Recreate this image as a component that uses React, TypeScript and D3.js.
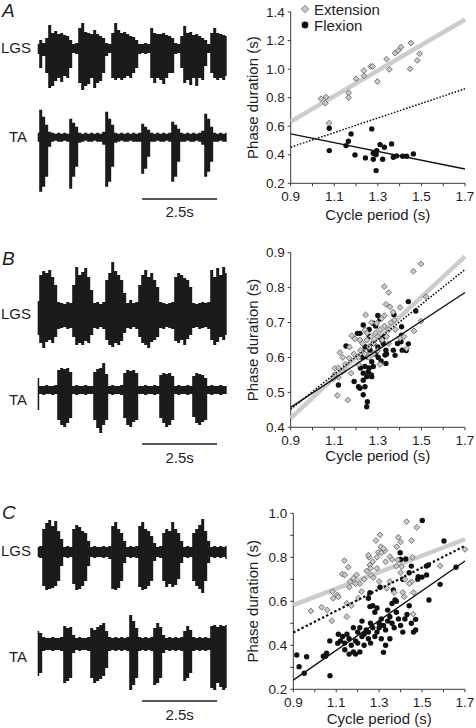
import React from "react";
import * as d3 from "d3";

const FONT = "'Liberation Sans', Arial, Helvetica, sans-serif";

// ---------- EMG envelopes (sampled every 0.1 s, amplitude units above / below baseline) ----------
const sampleDt = 0.1;
const traceDuration = 6.3;
const aLgsTop = [4,8,5,10,23,15,17,14,15,13,12,8,4,5,20,25,16,15,14,18,14,12,10,5,4,15,25,18,15,16,14,12,11,8,4,4,5,4,20,15,14,14,15,13,12,10,5,4,12,22,15,16,13,14,12,10,8,4,15,20,15,14,13,12];
const aLgsBot = [6,20,8,25,40,38,33,30,34,28,30,20,5,6,35,42,38,36,30,40,35,33,25,8,5,30,32,30,32,30,28,30,25,20,6,5,6,5,30,35,30,32,36,30,25,25,6,5,20,35,32,37,30,38,30,32,18,5,25,30,32,30,32,28];
const aTaTop = [4,27,20,12,5,4,3,4,3,4,3,18,14,10,4,3,4,3,4,3,4,3,5,25,18,12,4,3,4,3,4,3,4,3,4,13,10,7,4,3,4,3,4,3,4,15,12,8,4,3,4,3,4,3,4,6,23,18,10,4,3,4,3,4];
const aTaBot = [5,55,50,40,10,5,4,5,5,4,5,52,40,30,6,5,4,5,5,4,5,5,8,50,45,30,6,5,4,5,5,4,5,5,5,37,32,20,5,5,4,5,5,4,5,45,40,25,5,5,4,5,5,4,5,8,40,35,25,5,5,4,5,5];
const bLgsTop = [14,40,44,42,45,38,30,13,12,11,13,12,30,48,40,43,47,38,25,12,13,11,13,35,42,53,44,40,35,22,12,15,12,13,30,40,45,38,42,35,28,13,12,11,12,13,38,42,40,37,35,28,12,11,12,13,12,13,45,38,47,40,48,42];
const bLgsBot = [20,28,33,27,25,28,22,14,13,12,14,13,22,30,28,30,26,28,20,13,14,12,14,25,30,32,28,30,26,18,13,14,12,14,22,28,30,33,27,25,22,13,14,12,13,14,26,28,25,30,24,20,13,12,14,13,12,14,25,30,27,22,25,20];
const bTaTop = [12,4,4,5,4,4,5,20,22,21,22,18,4,5,4,4,5,4,4,18,21,22,27,16,4,5,4,4,5,17,20,19,20,17,4,4,5,4,4,5,4,15,17,16,17,14,4,5,4,4,5,4,14,17,16,15,12,4,5,4,4,5,4,4];
const bTaBot = [20,4,5,4,4,5,4,30,35,37,33,28,4,5,4,4,5,4,4,30,38,43,35,30,4,5,4,4,5,28,35,37,32,30,4,4,5,4,4,5,4,28,33,37,35,30,4,5,4,4,5,4,27,33,35,32,30,4,5,4,4,5,4,4];
const cLgsTop = [4,5,22,28,31,25,30,20,12,4,5,4,22,26,24,20,18,10,4,5,4,4,5,4,5,25,29,22,18,10,4,5,4,5,25,29,22,20,15,8,4,5,18,22,20,29,22,18,10,4,5,4,18,22,26,32,20,10,4,5,4,5,4,5];
const cLgsBot = [6,7,35,39,38,37,35,30,15,6,7,6,33,39,38,35,30,15,6,7,6,6,7,6,8,38,39,37,30,12,6,7,6,7,36,39,38,35,30,10,6,7,30,36,33,36,34,28,12,6,7,6,30,35,38,42,30,12,6,7,6,7,6,8];
const cTaTop = [12,10,6,5,5,6,5,5,6,17,15,16,8,5,6,5,5,6,15,13,16,18,20,12,6,5,6,5,6,5,6,28,22,15,6,5,6,5,6,15,20,16,8,5,6,5,6,5,6,12,17,13,6,5,6,5,6,5,17,18,16,18,17,18];
const cTaBot = [33,30,8,7,7,8,7,7,8,40,38,35,10,7,8,7,7,8,35,40,38,36,33,25,8,7,8,7,8,7,8,47,42,35,8,7,8,7,8,42,40,35,10,7,8,7,8,7,8,38,35,30,8,7,8,7,8,7,45,47,40,44,47,45];
const scaleBarStart = 3.48;
const scaleBarLength = 2.5;

// ---------- Scatter data: [cycle period (s), phase duration (s)] ----------
const extA: [number, number][] = [[1.039,0.792],[1.062,0.804],[1.059,0.761],[1.076,0.621],[1.166,0.834],[1.166,0.801],[1.2,0.932],[1.236,0.953],[1.236,0.99],[1.267,1.019],[1.276,1.019],[1.298,0.913],[1.34,1.07],[1.353,0.998],[1.379,1.112],[1.394,1.131],[1.406,1.154],[1.452,1.182],[1.448,1.002],[1.481,1.061],[1.492,1.108]];
const flexA: [number, number][] = [[1.077,0.586],[1.077,0.429],[1.154,0.464],[1.165,0.495],[1.177,0.546],[1.195,0.399],[1.243,0.378],[1.272,0.581],[1.279,0.411],[1.279,0.368],[1.292,0.401],[1.295,0.429],[1.292,0.289],[1.31,0.471],[1.322,0.368],[1.33,0.453],[1.363,0.476],[1.371,0.382],[1.386,0.392],[1.414,0.389],[1.432,0.389],[1.463,0.406]];
const extB: [number, number][] = [[1.498,0.868],[1.463,0.847],[1.521,0.774],[1.498,0.704],[1.466,0.676],[1.33,0.803],[1.35,0.786],[1.337,0.752],[1.356,0.745],[1.402,0.743],[1.376,0.707],[1.244,0.722],[1.241,0.679],[1.318,0.712],[1.295,0.698],[1.18,0.662],[1.195,0.653],[1.218,0.65],[1.126,0.614],[1.139,0.6],[1.168,0.598],[1.103,0.569],[1.096,0.54],[1.119,0.543],[1.114,0.491],[1.162,0.478],[1.177,0.555],[1.212,0.58],[1.252,0.607],[1.432,0.626],[1.402,0.655],[1.22,0.62],[1.23,0.64],[1.25,0.65],[1.26,0.63],[1.27,0.66],[1.28,0.64],[1.29,0.67],[1.3,0.66],[1.31,0.68],[1.32,0.65],[1.33,0.69],[1.34,0.66],[1.35,0.68],[1.3,0.62],[1.28,0.61],[1.26,0.6],[1.24,0.61],[1.21,0.6],[1.19,0.61],[1.17,0.63],[1.25,0.67],[1.27,0.7],[1.36,0.7],[1.38,0.68],[1.33,0.72],[1.15,0.58],[1.14,0.56],[1.1,0.55],[1.12,0.57],[1.31,0.58],[1.35,0.64],[1.37,0.73],[1.42,0.66]];
const flexB: [number, number][] = [[1.44,0.76],[1.474,0.733],[1.374,0.722],[1.409,0.688],[1.409,0.664],[1.406,0.645],[1.44,0.639],[1.412,0.621],[1.371,0.621],[1.333,0.607],[1.337,0.583],[1.379,0.606],[1.318,0.65],[1.279,0.698],[1.233,0.693],[1.218,0.669],[1.206,0.669],[1.261,0.66],[1.241,0.631],[1.264,0.621],[1.249,0.602],[1.272,0.588],[1.279,0.574],[1.241,0.574],[1.233,0.555],[1.256,0.559],[1.272,0.545],[1.249,0.545],[1.233,0.535],[1.241,0.516],[1.233,0.493],[1.252,0.473],[1.249,0.459],[1.191,0.531],[1.211,0.516],[1.218,0.512],[1.119,0.521],[1.154,0.633],[1.302,0.6],[1.315,0.59],[1.337,0.621],[1.325,0.64],[1.29,0.69],[1.31,0.71],[1.26,0.68],[1.3,0.63],[1.33,0.66],[1.27,0.55],[1.26,0.57],[1.29,0.61],[1.34,0.61],[1.39,0.64],[1.43,0.62],[1.22,0.57],[1.23,0.6],[1.3,0.72],[1.28,0.64]];
const extC: [number, number][] = [[1.428,0.962],[1.475,0.936],[1.304,0.902],[1.285,0.876],[1.389,0.891],[1.4,0.87],[1.451,0.876],[1.382,0.848],[1.307,0.848],[1.327,0.83],[1.296,0.823],[1.253,0.8],[1.35,0.803],[1.455,0.8],[1.138,0.785],[1.156,0.755],[1.128,0.724],[1.257,0.765],[1.242,0.738],[1.386,0.788],[1.405,0.758],[1.195,0.72],[1.18,0.705],[1.164,0.689],[1.273,0.708],[1.161,0.664],[1.218,0.644],[1.083,0.644],[1.105,0.629],[1.086,0.614],[1.149,0.591],[1.203,0.614],[1.335,0.659],[1.417,0.621],[1.451,0.689],[1.032,0.573],[1.058,0.561],[0.982,0.556],[1.079,0.511],[1.149,0.53],[1.459,0.542],[1.584,0.761],[1.7,0.836],[1.27,0.78],[1.29,0.8],[1.31,0.82],[1.32,0.84],[1.26,0.72],[1.29,0.75],[1.33,0.78],[1.36,0.79],[1.38,0.76],[1.4,0.73],[1.42,0.7],[1.44,0.68],[1.35,0.69],[1.37,0.64],[1.3,0.69],[1.23,0.7],[1.21,0.68],[1.19,0.68],[1.26,0.75],[1.41,0.64],[1.46,0.64],[1.14,0.72],[1.17,0.58],[1.11,0.62],[1.25,0.81]];
const flexC: [number, number][] = [[1.501,0.967],[1.602,0.874],[1.398,0.821],[1.424,0.792],[1.482,0.712],[1.521,0.72],[1.529,0.765],[1.658,0.755],[1.584,0.677],[1.532,0.606],[1.47,0.518],[1.374,0.606],[1.366,0.652],[1.304,0.664],[1.257,0.639],[1.25,0.614],[1.257,0.576],[1.107,0.409],[1.32,0.368],[1.055,0.364],[0.916,0.356],[0.927,0.303],[0.962,0.348],[0.951,0.273],[1.071,0.262],[1.12,0.42],[1.13,0.44],[1.14,0.41],[1.15,0.45],[1.16,0.43],[1.17,0.4],[1.18,0.37],[1.19,0.42],[1.2,0.46],[1.21,0.48],[1.22,0.44],[1.23,0.45],[1.24,0.47],[1.25,0.43],[1.26,0.5],[1.27,0.48],[1.28,0.44],[1.29,0.46],[1.3,0.5],[1.31,0.52],[1.32,0.49],[1.33,0.47],[1.34,0.51],[1.35,0.53],[1.36,0.5],[1.37,0.48],[1.38,0.55],[1.39,0.52],[1.4,0.49],[1.41,0.46],[1.43,0.54],[1.45,0.5],[1.47,0.47],[1.46,0.46],[1.44,0.58],[1.48,0.7],[1.5,0.71],[1.52,0.76],[1.38,0.6],[1.36,0.59],[1.34,0.56],[1.29,0.57],[1.28,0.55],[1.27,0.58],[1.21,0.37],[1.19,0.36],[1.16,0.36],[1.14,0.38],[1.11,0.45],[1.07,0.42],[1.05,0.35],[1.04,0.35],[1.23,0.4],[1.22,0.51],[1.26,0.41],[1.31,0.43],[1.33,0.4],[1.35,0.43],[1.42,0.52],[1.44,0.73],[1.4,0.79],[1.41,0.7],[1.45,0.76],[1.3,0.48],[1.25,0.46],[1.18,0.48],[1.2,0.41]];

// Regression lines: phase duration at x = 0.9 and x = 1.7
const fitX = [0.9, 1.7];
const fitExtA = [0.632, 1.347];
const fitDotA = [0.453, 0.862];
const fitFlexA = [0.546, 0.3];
const fitExtB = [0.426, 0.889];
const fitDotB = [0.452, 0.852];
const fitFlexB = [0.457, 0.786];
const fitExtC = [0.583, 0.882];
const fitDotC = [0.458, 0.852];
const fitFlexC = [0.242, 0.783];

// Axes
const xDomain = [0.9, 1.7];
const xTicks = [0.9, 1.0, 1.1, 1.2, 1.3, 1.4, 1.5, 1.6, 1.7];
const xTickLabels = [0.9, 1.1, 1.3, 1.5, 1.7];
const yTicksA = [0.2, 0.4, 0.6, 0.8, 1.0, 1.2, 1.4];
const yLabelsA = [0.2, 0.4, 0.6, 0.8, 1.0, 1.2, 1.4];
const yTicksB = [0.4, 0.5, 0.6, 0.7, 0.8, 0.9];
const yLabelsB = [0.4, 0.5, 0.6, 0.7, 0.8, 0.9];
const yTicksC = [0.2, 0.3, 0.4, 0.5, 0.6, 0.7, 0.8, 0.9, 1.0];
const yLabelsC = [0.2, 0.4, 0.6, 0.8, 1.0];
const legendLabels = ["Extension", "Flexion"];
const xTitle = "Cycle period (s)";
const yTitle = "Phase duration (s)";

const TEXT = "#1e1e1e";
const AXIS = "#3a3a3a";
const EMG = "#1b1b1b";

const diamondPath = (r: number) => `M0,${-r}L${r},0L0,${r}L${-r},0Z`;

function Trace({ top, bot, base }: { top: number[]; bot: number[]; base: number }) {
  const t = d3.scaleLinear().domain([0, traceDuration]).range([37.7, 226.7]);
  const a = d3.scaleLinear().domain([-1, 1]).range([base + 1, base - 1]);
  const area = d3
    .area<number>()
    .x((_, i) => t(i * sampleDt))
    .y0((_, i) => a(-bot[i]))
    .y1((d) => a(d))
    .curve(d3.curveStep);
  return <path d={area(top) || ""} fill={EMG} />;
}

function EmgPanel({ letter, letterY, lgs, ta, lgsBase, taBase, lgsLabelY, taLabelY, barY, barLabelY }: any) {
  const t = d3.scaleLinear().domain([0, traceDuration]).range([37.7, 226.7]);
  return (
    <g>
      <text x={2} y={letterY} fontSize={19} fontStyle="italic" fontFamily={FONT} fill={TEXT}>{letter}</text>
      <text x={1} y={lgsLabelY} fontSize={15} fontFamily={FONT} fill={TEXT}>LGS</text>
      <text x={9} y={taLabelY} fontSize={15} fontFamily={FONT} fill={TEXT}>TA</text>
      <Trace top={lgs[0]} bot={lgs[1]} base={lgsBase} />
      <Trace top={ta[0]} bot={ta[1]} base={taBase} />
      <line x1={t(scaleBarStart)} x2={t(scaleBarStart + scaleBarLength)} y1={barY} y2={barY} stroke={TEXT} strokeWidth={1.3} />
      <text x={(t(scaleBarStart) + t(scaleBarStart + scaleBarLength)) / 2} y={barLabelY} textAnchor="middle" fontSize={15} fontFamily={FONT} fill={TEXT}>{scaleBarLength}s</text>
    </g>
  );
}

function ScatterPanel({ p }: any) {
  const x = d3.scaleLinear().domain(xDomain).range([p.x0, p.x1]);
  const y = d3.scaleLinear().domain(p.yDomain).range([p.yBot, p.yTop]);
  const line = d3.line<number>().x((_, i) => x(fitX[i])).y((d) => y(d));
  const fmt = d3.format(".1f");
  const cy = (p.yBot + p.yTop) / 2;
  return (
    <g fontFamily={FONT}>
      <line x1={p.x0} x2={p.x0} y1={y(p.yDomain[0])} y2={y(p.yDomain[1])} stroke={AXIS} strokeWidth={1} />
      <line x1={p.x0} x2={p.x1} y1={p.yBot} y2={p.yBot} stroke={AXIS} strokeWidth={1} />
      {p.yTicks.map((v: number) => (
        <line key={"yt" + v} x1={p.x0 - 3} x2={p.x0} y1={y(v)} y2={y(v)} stroke={AXIS} strokeWidth={1} />
      ))}
      {p.yLabels.map((v: number) => (
        <text key={"yl" + v} x={p.x0 - 6} y={y(v) + 4.6} textAnchor="end" fontSize={13.5} fill={TEXT}>{fmt(v)}</text>
      ))}
      {xTicks.map((v) => (
        <line key={"xt" + v} x1={x(v)} x2={x(v)} y1={p.yBot} y2={p.yBot + 3} stroke={AXIS} strokeWidth={1} />
      ))}
      {xTickLabels.map((v) => (
        <text key={"xl" + v} x={x(v)} y={p.yBot + 17.3} textAnchor="middle" fontSize={13.5} fill={TEXT}>{fmt(v)}</text>
      ))}
      <text x={(p.x0 + p.x1) / 2} y={p.yBot + p.titleDy} textAnchor="middle" fontSize={15} fill={TEXT}>{xTitle}</text>
      <text transform={`translate(258,${cy}) rotate(-90)`} textAnchor="middle" fontSize={15} fill={TEXT}>{yTitle}</text>

      <path d={line(p.fitExt) || ""} stroke="#cccccc" strokeWidth={4.5} fill="none" />
      {p.flex.map((d: [number, number], i: number) => (
        <circle key={"f" + i} cx={x(d[0])} cy={y(d[1])} r={2.7} fill="#111" />
      ))}
      {p.ext.map((d: [number, number], i: number) => (
        <path key={"e" + i} d={diamondPath(2.9)} transform={`translate(${x(d[0])},${y(d[1])})`} fill="#c9c9c9" stroke="#5c5c5c" strokeWidth={0.8} />
      ))}
      <path d={line(p.fitDot) || ""} stroke="#111" strokeWidth={p.dotWidth} strokeDasharray={p.dash} fill="none" />
      <path d={line(p.fitFlex) || ""} stroke="#111" strokeWidth={1.4} fill="none" />

      {p.legend && (
        <g>
          <path d={diamondPath(3.6)} transform={`translate(305,9)`} fill="#c9c9c9" stroke="#5c5c5c" strokeWidth={0.8} />
          <text x={314} y={14.5} fontSize={15} fill={TEXT}>{legendLabels[0]}</text>
          <circle cx={305} cy={25} r={3.4} fill="#111" />
          <text x={314} y={30.5} fontSize={15} fill={TEXT}>{legendLabels[1]}</text>
        </g>
      )}
    </g>
  );
}

export default function App() {
  const panels = [
    { x0: 290.7, x1: 465, yTop: 12, yBot: 183.3, yDomain: [0.2, 1.4], yTicks: yTicksA, yLabels: yLabelsA, ext: extA, flex: flexA, fitExt: fitExtA, fitDot: fitDotA, fitFlex: fitFlexA, legend: true, dotWidth: 1.5, dash: "1.6,1.6", titleDy: 37 },
    { x0: 290.7, x1: 465, yTop: 252.7, yBot: 427.3, yDomain: [0.4, 0.9], yTicks: yTicksB, yLabels: yLabelsB, ext: extB, flex: flexB, fitExt: fitExtB, fitDot: fitDotB, fitFlex: fitFlexB, legend: false, dotWidth: 1.5, dash: "1.6,1.6", titleDy: 34 },
    { x0: 293.3, x1: 465, yTop: 513.3, yBot: 689.3, yDomain: [0.2, 1.0], yTicks: yTicksC, yLabels: yLabelsC, ext: extC, flex: flexC, fitExt: fitExtC, fitDot: fitDotC, fitFlex: fitFlexC, legend: false, dotWidth: 2.2, dash: "2.4,2.2", titleDy: 34.5 },
  ];
  return (
    <svg width={476} height={728} style={{ position: "absolute", left: 0, top: 0, background: "#fff" }}>
      <rect width={476} height={728} fill="#fff" />
      <EmgPanel letter="A" letterY={17} lgs={[aLgsTop, aLgsBot]} ta={[aTaTop, aTaBot]} lgsBase={48} taBase={136.7} lgsLabelY={52.5} taLabelY={142} barY={199} barLabelY={217} />
      <EmgPanel letter="B" letterY={265} lgs={[bLgsTop, bLgsBot]} ta={[bTaTop, bTaBot]} lgsBase={315} taBase={390} lgsLabelY={318.5} taLabelY={405} barY={444} barLabelY={463} />
      <EmgPanel letter="C" letterY={519} lgs={[cLgsTop, cLgsBot]} ta={[cTaTop, cTaBot]} lgsBase={551} taBase={643} lgsLabelY={555.5} taLabelY={662} barY={701} barLabelY={720} />
      {panels.map((p, i) => (
        <ScatterPanel key={i} p={p} />
      ))}
    </svg>
  );
}
